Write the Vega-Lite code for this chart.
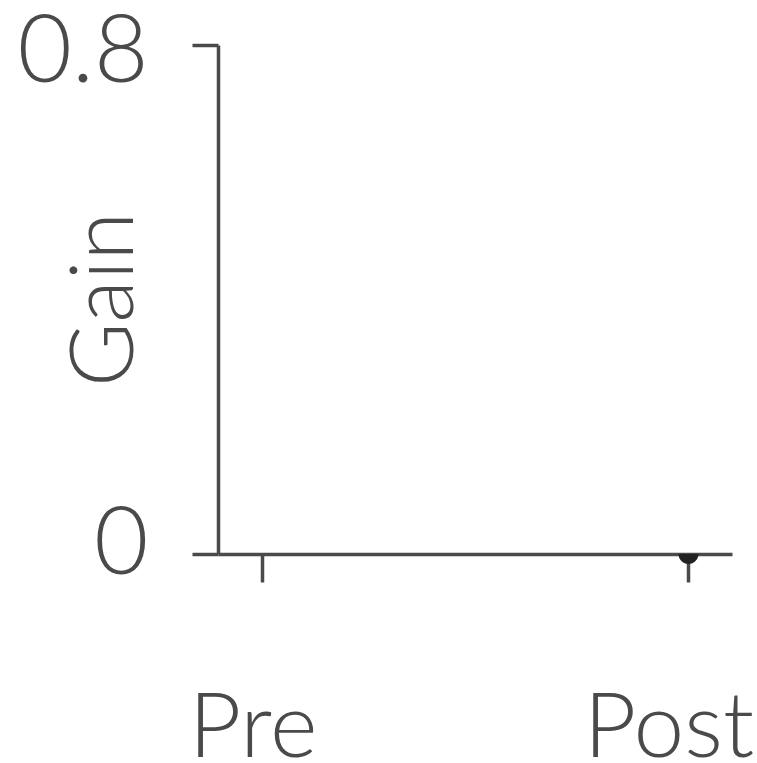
{
  "$schema": "https://vega.github.io/schema/vega-lite/v6.json",
  "autosize": {"type": "none"},
  "width": 514,
  "height": 509,
  "padding": {"left": 218, "top": 45, "right": 25, "bottom": 209},
  "background": "white",
  "config": {
    "view": {"stroke": null},
    "font": "Lato"
  },
  "data": {"values": [{"phase": "Post", "gain": 0}]},
  "mark": {"type": "point", "filled": true, "shape": "M-1,0 A1,1 0 0,0 1,0 Z", "size": 400, "color": "#222222", "opacity": 1},
  "encoding": {
    "x": {
      "field": "phase",
      "type": "nominal",
      "scale": {"type": "point", "domain": ["Pre", "Post"], "padding": 0.102},
      "axis": {
        "title": null,
        "labelAngle": 0,
        "labelFont": "Lato",
        "labelFontWeight": 300,
        "labelFontSize": 91,
        "labelColor": "#4a4a4a",
        "labelBaseline": "alphabetic",
        "labelPadding": 174,
        "labelOffset": {"condition": {"test": "datum.value === 'Post'", "value": -20}, "value": -9},
        "tickSize": 28,
        "tickWidth": 3.5,
        "tickColor": "#4a4a4a",
        "domainWidth": 3.5,
        "domainColor": "#4a4a4a",
        "grid": false
      }
    },
    "y": {
      "field": "gain",
      "type": "quantitative",
      "scale": {"domain": [0, 0.8], "nice": false},
      "axis": {
        "title": "Gain",
        "values": [0, 0.8],
        "format": ".1~f",
        "labelFont": "Lato",
        "labelFontWeight": 300,
        "labelFontSize": 94,
        "labelColor": "#4a4a4a",
        "labelPadding": 44,
        "labelBaseline": "middle",
        "labelOffset": {"condition": {"test": "datum.value === 0", "value": -9}, "value": 8},
        "tickSize": 26,
        "tickWidth": 3.5,
        "tickColor": "#4a4a4a",
        "domainWidth": 3.5,
        "domainColor": "#4a4a4a",
        "grid": false,
        "titleFont": "Lato",
        "titleFontSize": 88,
        "titleFontWeight": 300,
        "titleColor": "#4a4a4a",
        "titleAngle": -90,
        "titleX": -86,
        "titleY": 254,
        "titleAlign": "center",
        "titleBaseline": "alphabetic"
      }
    }
  }
}
